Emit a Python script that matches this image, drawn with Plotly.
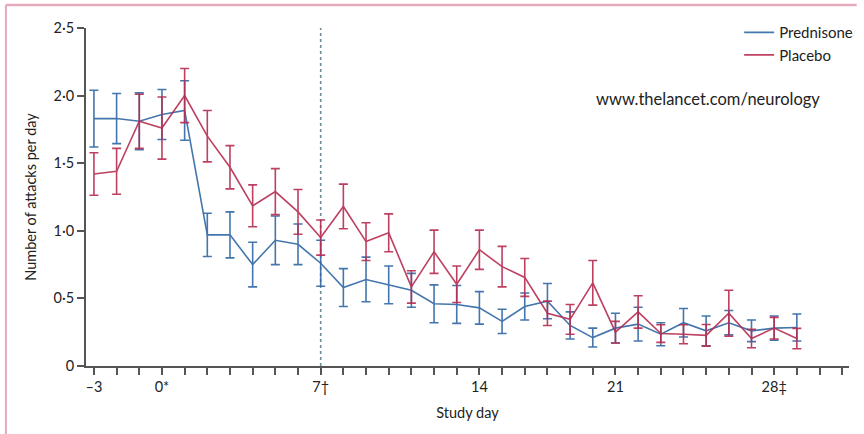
import plotly.graph_objects as go

# ---- data ----
tick_labels = {0: "–3", 3: "0*", 10: "7†", 17: "14", 23: "21", 30: "28‡"}
n_ticks = 34

prednisone = [1.83, 1.83, 1.81, 1.86, 1.89, 0.97, 0.97, 0.75, 0.93, 0.90,
              0.76, 0.58, 0.64, 0.60, 0.56, 0.46, 0.455, 0.43, 0.33, 0.44,
              0.48, 0.30, 0.21, 0.28, 0.31, 0.235, 0.32, 0.26, 0.32, 0.26,
              0.28, 0.285]
prednisone_err = [0.21, 0.185, 0.21, 0.185, 0.22, 0.16, 0.17, 0.165, 0.18, 0.15,
                  0.17, 0.14, 0.165, 0.14, 0.125, 0.14, 0.14, 0.12, 0.09, 0.10,
                  0.13, 0.10, 0.07, 0.11, 0.125, 0.085, 0.105, 0.11, 0.09, 0.08,
                  0.09, 0.10]
placebo = [1.42, 1.44, 1.81, 1.76, 2.00, 1.70, 1.47, 1.185, 1.29, 1.14,
           0.95, 1.18, 0.92, 0.985, 0.585, 0.845, 0.605, 0.86, 0.735, 0.655,
           0.39, 0.345, 0.615, 0.25, 0.40, 0.24, 0.235, 0.227, 0.39, 0.203,
           0.28, 0.203]
placebo_err = [0.157, 0.17, 0.2, 0.23, 0.2, 0.19, 0.16, 0.155, 0.17, 0.165,
               0.13, 0.165, 0.14, 0.14, 0.12, 0.16, 0.135, 0.145, 0.15, 0.14,
               0.09, 0.11, 0.165, 0.08, 0.12, 0.065, 0.07, 0.08, 0.17, 0.068,
               0.08, 0.075]
y_ticks = [0, 0.5, 1.0, 1.5, 2.0, 2.5]
y_tick_text = ["0", "0·5", "1·0", "1·5", "2·0", "2·5"]
marker_day = 10  # position of the dashed line (day 7)

blue = "rgb(48,104,165)"
red = "rgb(183,44,80)"
font = "Lato, Open Sans, sans-serif"
pos = list(range(len(prednisone)))

fig = go.Figure()
for name, vals, errs, col in [("Prednisone", prednisone, prednisone_err, blue),
                              ("Placebo", placebo, placebo_err, red)]:
    fig.add_trace(go.Scatter(
        x=pos, y=vals, name=name, mode="lines",
        line=dict(color=col, width=1.6),
        opacity=0.9,
        error_y=dict(type="data", array=errs, visible=True,
                     color=col, thickness=1.6, width=4.5),
    ))

fig.add_shape(type="line", x0=marker_day, x1=marker_day, y0=0, y1=2.5,
              xref="x", yref="y",
              line=dict(color="rgb(110,140,150)", width=1.6, dash="dot"),
              layer="below")

# figure frame (Lancet-style pink border, top and left)
fig.add_shape(type="line", xref="paper", yref="paper",
              x0=-0.105, x1=1.01, y0=1.068, y1=1.068,
              line=dict(color="rgb(228,170,185)", width=2.5))
fig.add_shape(type="line", xref="paper", yref="paper",
              x0=-0.105, x1=-0.105, y0=1.068, y1=-0.21,
              line=dict(color="rgb(228,170,185)", width=2))

fig.add_annotation(text="www.thelancet.com/neurology", xref="paper", yref="paper",
                   x=0.815, y=0.79, xanchor="center", yanchor="middle",
                   showarrow=False,
                   font=dict(family=font, size=16.5, color="#222"))

fig.update_layout(
    width=864, height=434,
    margin=dict(l=86, r=6, t=28, b=68),
    paper_bgcolor="white", plot_bgcolor="white",
    font=dict(family=font, size=14, color="#222"),
    showlegend=True,
    legend=dict(x=1.012, y=1.035, xanchor="right", yanchor="top",
                bgcolor="rgba(0,0,0,0)", font=dict(size=15),
                tracegroupgap=0, itemwidth=30),
    xaxis=dict(range=[-0.35, 33.3], tickmode="array",
               tickvals=list(range(n_ticks)),
               ticktext=[tick_labels.get(i, "") for i in range(n_ticks)],
               ticks="outside", ticklen=7, tickwidth=1.5, tickcolor="#555",
               showline=True, linecolor="#555", linewidth=1.8,
               showgrid=False, zeroline=False, automargin=False,
               tickfont=dict(size=14.5),
               title=dict(text="Study day", standoff=14, font=dict(size=14.5))),
    yaxis=dict(range=[0, 2.5], tickmode="array", tickvals=y_ticks,
               ticktext=y_tick_text,
               ticks="outside", ticklen=7, tickwidth=1.5, tickcolor="#555",
               showline=True, linecolor="#555", linewidth=1.8,
               showgrid=False, zeroline=False, automargin=False,
               tickfont=dict(size=14.5),
               title=dict(text="Number of attacks per day", standoff=14,
                          font=dict(size=14.5))),
)

fig.write_html("out.html", config={"displayModeBar": False},
               post_script="document.body.style.margin='0';")
